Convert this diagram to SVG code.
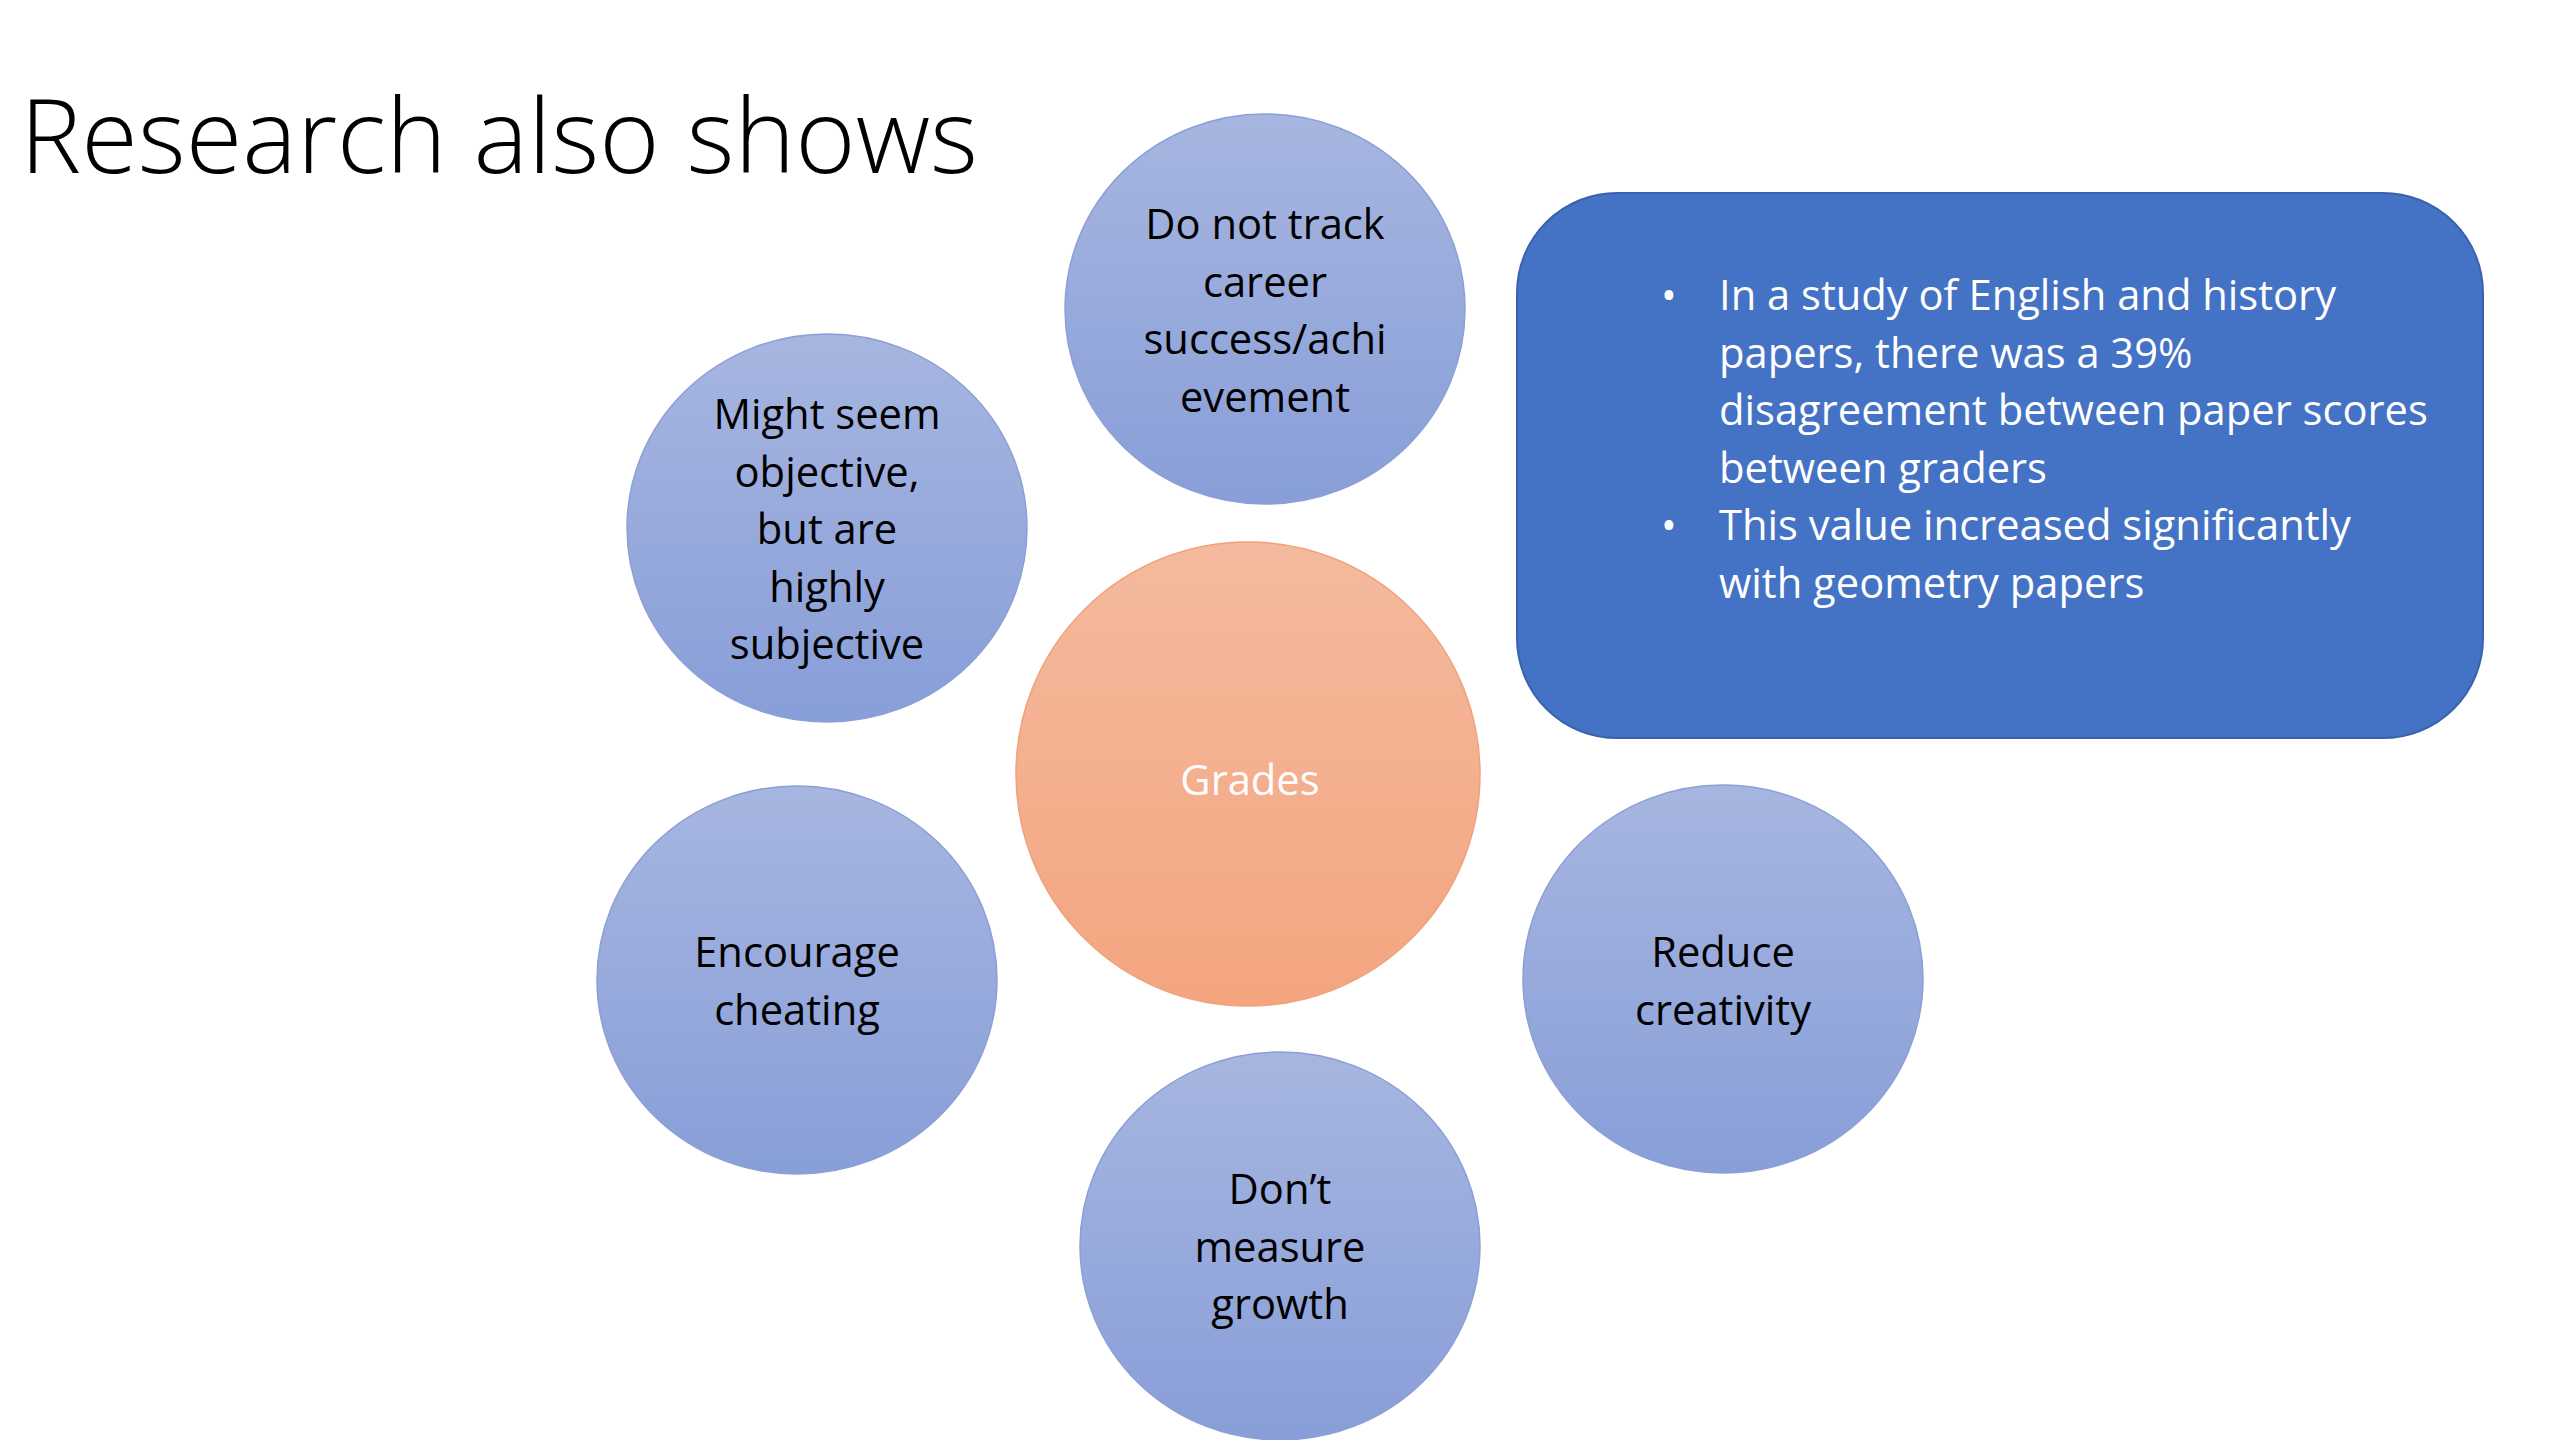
<svg xmlns="http://www.w3.org/2000/svg" width="2560" height="1440" viewBox="0 0 2560 1440">
<defs>
<linearGradient id="gBlue" x1="0" y1="0" x2="0" y2="1">
<stop offset="0" stop-color="#A7B6E0"/>
<stop offset="1" stop-color="#889ED8"/>
</linearGradient>
<linearGradient id="gOrange" x1="0" y1="0" x2="0" y2="1">
<stop offset="0" stop-color="#F4BA9D"/>
<stop offset="1" stop-color="#F4A580"/>
</linearGradient>
<style>
.bub{fill:url(#gBlue);stroke:#8C9FD6;stroke-width:1.5}
.ctr{fill:url(#gOrange);stroke:#EFA27E;stroke-width:1.5}
.lbl{font-family:"Open Sans","Liberation Sans",sans-serif;font-size:41.7px;fill:#000;text-anchor:middle}
.wlbl{font-family:"Open Sans","Liberation Sans",sans-serif;font-size:41.7px;fill:#FFFFFF;text-anchor:middle}
.box{fill:#4472C4;stroke:#3A63AE;stroke-width:2}
.btxt{font-family:"Open Sans","Liberation Sans",sans-serif;font-size:41.7px;fill:#FFFFFF}
.title{font-family:"Open Sans","Liberation Sans",sans-serif;font-weight:300;font-size:103px;fill:#000}
</style>
</defs>
<rect width="2560" height="1440" fill="#FFFFFF"/>
<text class="title" x="20" y="173">Research also shows</text>
<g id="connectors"></g>
<g id="node-career">
<ellipse class="bub" cx="1265" cy="309" rx="200" ry="195"/>
<text class="lbl" x="1265" y="239">Do not track</text>
<text class="lbl" x="1265" y="297">career</text>
<text class="lbl" x="1265" y="354">success/achi</text>
<text class="lbl" x="1265" y="412">evement</text>
</g>
<g id="node-subjective">
<ellipse class="bub" cx="827" cy="528" rx="200" ry="194"/>
<text class="lbl" x="827" y="429">Might seem</text>
<text class="lbl" x="827" y="487">objective,</text>
<text class="lbl" x="827" y="544">but are</text>
<text class="lbl" x="827" y="602">highly</text>
<text class="lbl" x="827" y="659">subjective</text>
</g>
<g id="node-grades">
<ellipse class="ctr" cx="1248" cy="774" rx="232" ry="232"/>
<text class="wlbl" x="1250" y="795">Grades</text>
</g>
<g id="node-cheating">
<ellipse class="bub" cx="797" cy="980" rx="200" ry="194"/>
<text class="lbl" x="797" y="967">Encourage</text>
<text class="lbl" x="797" y="1025">cheating</text>
</g>
<g id="node-creativity">
<ellipse class="bub" cx="1723" cy="979" rx="200" ry="194"/>
<text class="lbl" x="1723" y="967">Reduce</text>
<text class="lbl" x="1723" y="1025">creativity</text>
</g>
<g id="node-growth">
<ellipse class="bub" cx="1280" cy="1246" rx="200" ry="194"/>
<text class="lbl" x="1280" y="1204">Don’t</text>
<text class="lbl" x="1280" y="1262">measure</text>
<text class="lbl" x="1280" y="1319">growth</text>
</g>
<g id="node-research">
<rect class="box" x="1517" y="193" width="966" height="545" rx="100" ry="100"/>
<text class="btxt" x="1661" y="310">•</text>
<text class="btxt" x="1719" y="310">In a study of English and history</text>
<text class="btxt" x="1719" y="368">papers, there was a 39%</text>
<text class="btxt" x="1719" y="425">disagreement between paper scores</text>
<text class="btxt" x="1719" y="483">between graders</text>
<text class="btxt" x="1661" y="540">•</text>
<text class="btxt" x="1719" y="540">This value increased significantly</text>
<text class="btxt" x="1719" y="598">with geometry papers</text>
</g>
</svg>
